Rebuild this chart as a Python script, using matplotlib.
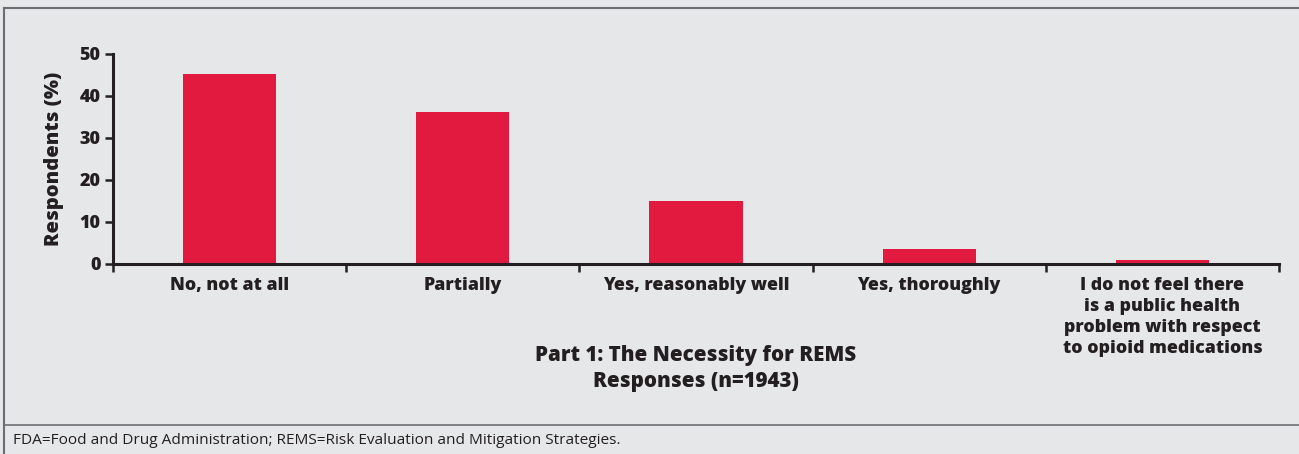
import numpy as np
import matplotlib.pyplot as plt
from matplotlib.lines import Line2D

# data
categories = ['No, not at all', 'Partially', 'Yes, reasonably well', 'Yes, thoroughly',
              'I do not feel there\nis a public health\nproblem with respect\nto opioid medications']
respondents = [45.2, 36.2, 15.0, 3.6, 1.0]
yticks = [0, 10, 20, 30, 40, 50]

W, H = 1299, 454
bg = '#e6e7e9'
bar_color = '#e31a3f'
ink = '#231f20'
frame = '#6d6e71'

plt.rcParams['font.family'] = ['Open Sans', 'DejaVu Sans']

fig = plt.figure(figsize=(W / 100, H / 100), dpi=100, facecolor=bg)
ax = fig.add_axes([113 / W, 1 - 264 / H, (1279 - 113) / W, (264 - 54) / H])
ax.set_facecolor(bg)

x = np.arange(len(categories)) + 0.5
ax.bar(x, respondents, width=0.4, color=bar_color, zorder=2)

ax.set_xlim(0, len(categories))
ax.set_ylim(0, 50)
ax.set_yticks(yticks)
ax.set_yticklabels([str(v) for v in yticks], fontsize=13, fontweight=800, color=ink)
ax.set_xticks(np.arange(len(categories) + 1))
ax.set_xticklabels([])
ax.set_xticks(x, minor=True)
ax.set_xticklabels(categories, minor=True, fontsize=12.8, fontweight=800, color=ink,
                   linespacing=1.33)
ax.tick_params(axis='x', which='minor', length=0, pad=9)
ax.tick_params(axis='x', which='major', length=6, width=1.8, color=ink, direction='out')
ax.tick_params(axis='y', length=6, width=1.8, color=ink, pad=3)

for s in ['top', 'right']:
    ax.spines[s].set_visible(False)
for s in ['left', 'bottom']:
    ax.spines[s].set_linewidth(2.2)
    ax.spines[s].set_color(ink)

ax.set_ylabel('Respondents (%)', fontsize=14.5, fontweight=800, color=ink, labelpad=11)

fig.text(696 / W, 1 - 355 / H, 'Part 1: The Necessity for REMS', ha='center', va='center',
         fontsize=14.8, fontweight=800, color=ink)
fig.text(696 / W, 1 - 381 / H, 'Responses (n=1943)', ha='center', va='center',
         fontsize=14.8, fontweight=800, color=ink)

fig.text(13 / W, 1 - 440 / H, 'FDA=Food and Drug Administration; REMS=Risk Evaluation and Mitigation Strategies.',
         ha='left', va='center', fontsize=11.1, color=ink)

# frame lines
fig.add_artist(Line2D([4 / W, 1], [1 - 8 / H, 1 - 8 / H], color=frame, lw=1.5))
fig.add_artist(Line2D([4 / W, 4 / W], [0, 1 - 8 / H], color=frame, lw=1.5))
fig.add_artist(Line2D([4 / W, 1], [1 - 425 / H, 1 - 425 / H], color=frame, lw=1.2))

fig.savefig('out.png', dpi=100, facecolor=bg)
